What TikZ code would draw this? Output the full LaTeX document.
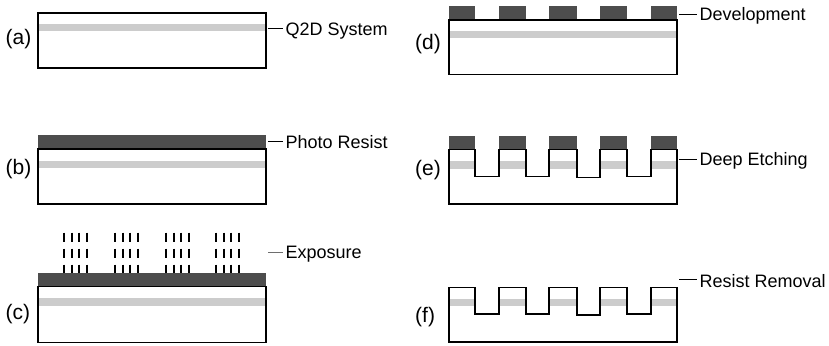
\documentclass[tikz,border=0pt]{standalone}
\usepackage{fontspec}
\setmainfont{Liberation Sans}
\usetikzlibrary{positioning,calc}
\definecolor{ResistGray}{RGB}{77,77,77}
\definecolor{LayerGray}{RGB}{204,204,204}
\definecolor{LeadGray}{RGB}{110,110,110}
\tikzset{
  sub/.style={draw=black,fill=white,line width=1.2pt},
  layer/.style={fill=LayerGray},
  resist/.style={fill=ResistGray},
  lead/.style={draw=black,line width=0.8pt,shorten >=3pt},
  ray/.style={draw=black,line width=2pt,dash pattern=on 9.5pt off 6.5pt},
  txt/.style={anchor=base west,inner sep=0pt,font=\fontsize{18}{20}\selectfont},
  tag/.style={anchor=base west,inner sep=0pt,font=\fontsize{21}{23}\selectfont},
}

\begin{document}
\begin{tikzpicture}[x=1pt,y=-1pt]
\useasboundingbox (0,0) rectangle (829,345);

% (a) substrate with Q2D layer
\draw[sub] (38,13) rectangle (266,68);
\fill[layer] (38.6,24.5) rectangle (265.4,31.5);
\draw[sub,fill=none] (38,13) rectangle (266,68);
\node[tag] (ta) at (5.5,44.5) {(a)};
\node[txt] (nq) at (285.5,35.5) {Q2D System};
\coordinate (qa) at (268,28);
\draw[lead] (qa) -- (qa -| nq.west);

% (b) photo resist
\fill[resist] (38,135) rectangle (266,149);
\draw[sub] (38,149) rectangle (266,204);
\fill[layer] (38.6,161) rectangle (265.4,168);
\draw[sub,fill=none] (38,149) rectangle (266,204);
\node[tag] (tb) at (5.5,174.5) {(b)};
\node[txt] (nr) at (285.5,148.5) {Photo Resist};
\coordinate (qb) at (268,141);
\draw[lead] (qb) -- (qb -| nr.west);

% (c) exposure
\fill[resist] (38,273) rectangle (266,286.5);
\draw[sub] (38,286.5) rectangle (266,342.5);
\fill[layer] (38.6,298) rectangle (265.4,305.5);
\draw[sub,fill=none] (38,286.5) rectangle (266,342.5);
\draw[ray] (64.3,232.5) -- (64.3,273) (71.7,232.5) -- (71.7,273)
  (79,232.5) -- (79,273) (86.5,232.5) -- (86.5,273);
\draw[ray] (115,232.5) -- (115,273) (122.5,232.5) -- (122.5,273)
  (130,232.5) -- (130,273) (137.5,232.5) -- (137.5,273);
\draw[ray] (166,232.5) -- (166,273) (173.5,232.5) -- (173.5,273)
  (181,232.5) -- (181,273) (188.5,232.5) -- (188.5,273);
\draw[ray] (216,232.5) -- (216,273) (223.5,232.5) -- (223.5,273)
  (231,232.5) -- (231,273) (238.5,232.5) -- (238.5,273);
\node[tag] (tc) at (5.5,319) {(c)};
\node[txt] (ne) at (285.5,258.5) {Exposure};
\coordinate (qc) at (268,252.5);
\draw[lead,draw=LeadGray] (qc) -- (qc -| ne.west);

% (d) development
\fill[resist] (449,6) rectangle (475,20);
\fill[resist] (499,6) rectangle (526,20);
\fill[resist] (549,6) rectangle (577,20);
\fill[resist] (600,6) rectangle (627,20);
\fill[resist] (651,6) rectangle (677,20);
\draw[sub] (449,20) rectangle (677,74.5);
\fill[layer] (449.6,31) rectangle (676.4,38.5);
\draw[sub,fill=none] (449,20) rectangle (677,74.5);
\node[tag] (td) at (415,49.5) {(d)};
\node[txt] (nd) at (699.5,20.5) {Development};
\coordinate (qd) at (679,14);
\draw[lead] (qd) -- (qd -| nd.west);

% (e) deep etching
\fill[resist] (449,135.5) rectangle (475,149.5);
\fill[resist] (499,135.5) rectangle (526,149.5);
\fill[resist] (549,135.5) rectangle (577,149.5);
\fill[resist] (600,135.5) rectangle (627,149.5);
\fill[resist] (651,135.5) rectangle (677,149.5);
\fill[layer] (449.6,161) rectangle (475,168.5);
\fill[layer] (499,161) rectangle (526,168.5);
\fill[layer] (549,161) rectangle (577,168.5);
\fill[layer] (600,161) rectangle (627,168.5);
\fill[layer] (651,161) rectangle (676.4,168.5);
\draw[sub,fill=none] (449,149.5) -- (475,149.5) -- (475,176.5) -- (499,176.5)
  -- (499,149.5) -- (526,149.5) -- (526,176.5) -- (549,176.5) -- (549,149.5)
  -- (577,149.5) -- (577,177.5) -- (600,177.5) -- (600,149.5) -- (627,149.5)
  -- (627,176.5) -- (651,176.5) -- (651,149.5) -- (677,149.5) -- (677,204)
  -- (449,204) -- cycle;
\node[tag] (te) at (415,175) {(e)};
\node[txt] (ng) at (699.5,165.5) {Deep Etching};
\coordinate (qe) at (679,159.5);
\draw[lead] (qe) -- (qe -| ng.west);

% (f) resist removal
\fill[layer] (449.6,298.5) rectangle (475,306);
\fill[layer] (499,298.5) rectangle (526,306);
\fill[layer] (549,298.5) rectangle (577,306);
\fill[layer] (600,298.5) rectangle (627,306);
\fill[layer] (651,298.5) rectangle (676.4,306);
\draw[sub,fill=none] (449,287.5) -- (475,287.5) -- (475,314) -- (499,314)
  -- (499,287.5) -- (526,287.5) -- (526,314) -- (549,314) -- (549,287.5)
  -- (577,287.5) -- (577,315) -- (600,315) -- (600,287.5) -- (627,287.5)
  -- (627,314) -- (651,314) -- (651,287.5) -- (677,287.5) -- (677,342)
  -- (449,342) -- cycle;
\node[tag] (tf) at (415,322.5) {(f)};
\node[txt] (nm) at (699.5,287) {Resist Removal};
\coordinate (qf) at (679,279.5);
\draw[lead] (qf) -- (qf -| nm.west);
\end{tikzpicture}
\end{document}
